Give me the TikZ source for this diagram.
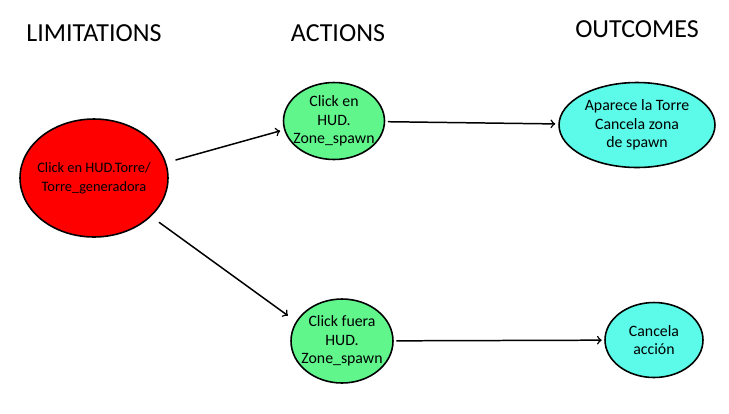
\documentclass[tikz,border=0pt]{standalone}
\usepackage{fontspec}
\setmainfont{Carlito}
\usetikzlibrary{arrows}
\usetikzlibrary{shapes.geometric}
\definecolor{limred}{RGB}{255,0,0}
\definecolor{actgreen}{RGB}{96,246,140}
\definecolor{outcyan}{RGB}{92,250,232}
\tikzset{
  blob/.style={ellipse,draw=black,line width=0.9pt,inner xsep=-0.25cm,inner ysep=0pt,
    align=center,font=\fontsize{9}{10.6}\selectfont},
  title/.style={font=\fontsize{14.8}{17}\selectfont},
  link/.style={->,line width=0.85pt}
}
\begin{document}
\begin{tikzpicture}[line cap=round,line join=round,>=to,x=0.02cm,y=-0.02cm]
\useasboundingbox (0,0) rectangle (729,413);
% column headers
\node[title] (hlim) at (94,33) {LIMITATIONS};
\node[title] (hact) at (338,33) {ACTIONS};
\node[title] (hout) at (637,29) {OUTCOMES};
% nodes
\node[blob,fill=limred,minimum width=2.96cm,minimum height=2.36cm,
  font=\fontsize{8.2}{10.8}\selectfont] (click) at (94,178) {Click en HUD.Torre/\\Torre\_generadora};
\node[blob,fill=actgreen,minimum width=2.02cm,minimum height=1.54cm] (inhud) at (334,121) {Click en\\HUD.\\Zone\_spawn};
\node[blob,fill=actgreen,minimum width=2.04cm,minimum height=1.68cm] (outhud) at (342,341) {Click fuera\\HUD.\\Zone\_spawn};
\node[blob,fill=outcyan,minimum width=3.12cm,minimum height=1.7cm] (torre) at (637,125) {Aparece la Torre\\Cancela zona\\de spawn};
\node[blob,fill=outcyan,minimum width=1.96cm,minimum height=1.5cm] (cancel) at (654,340) {Cancela\\acción};
% connectors
\draw[link,shorten <=0.2cm,shorten >=0.08cm] (click.12) -- (inhud.-170);
\draw[link,shorten <=0.2cm,shorten >=0.2cm] (click.-34) -- (outhud.157);
\draw[link,shorten <=0.06cm,shorten >=0.06cm] (inhud) -- (torre);
\draw[link,shorten <=0.06cm,shorten >=0.05cm] (outhud) -- (cancel);
\end{tikzpicture}
\end{document}
